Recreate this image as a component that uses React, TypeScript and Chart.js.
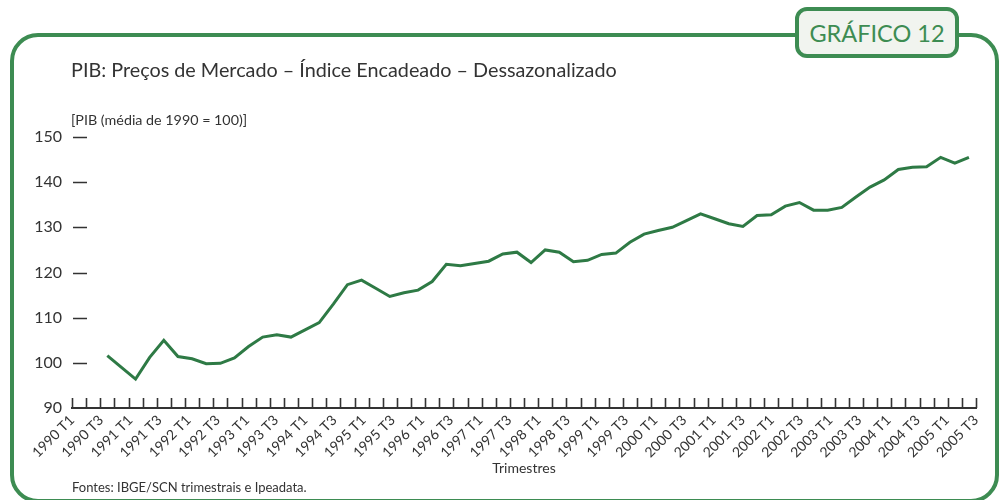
import React, { useEffect, useRef } from "react";
import { Chart, registerables } from "chart.js";

Chart.register(...registerables);

// ---- data ----
const years = [1990, 1991, 1992, 1993, 1994, 1995, 1996, 1997, 1998, 1999, 2000, 2001, 2002, 2003, 2004, 2005];
const quarterNames = ["T1", "T2", "T3", "T4"];
const quarterSlots = years.flatMap((y) => quarterNames.map((q) => `${y} ${q}`));
const tickLabels = years.flatMap((y) => [`${y} T1`, `${y} T3`]);

const pibIndex: (number | null)[] = [
  null, null, 101.6, 99.0, 96.4, 101.2, 105.0, 101.4, 100.9, 99.8, 99.9, 101.1,
  103.6, 105.7, 106.2, 105.7, 107.3, 108.9, 113.0, 117.3, 118.3, 116.5, 114.7, 115.5,
  116.1, 118.0, 121.8, 121.5, 122.0, 122.5, 124.1, 124.5, 122.2, 125.0, 124.5, 122.4,
  122.7, 124.0, 124.3, 126.7, 128.5, 129.3, 130.0, 131.5, 133.0, 131.9, 130.8, 130.2,
  132.6, 132.8, 134.7, 135.5, 133.8, 133.8, 134.4, 136.7, 138.9, 140.5, 142.8, 143.3,
  143.4, 145.5, 144.2, 145.5,
];

const yMin = 90;
const yMax = 150;
const yStep = 10;

// ---- styles ----
const GREEN = "#3d8c52";
const LINE = "#2e7a45";
const TEXT = "#333333";
const FONT = "Lato, 'Open Sans', sans-serif";

const tickMarks = {
  id: "tickMarks",
  afterDatasetsDraw(chart: any) {
    const { ctx, chartArea, scales } = chart;
    const x = scales.x;
    const y = scales.y;
    ctx.save();
    ctx.strokeStyle = TEXT;
    ctx.lineWidth = 1.6;
    ctx.beginPath();
    for (let i = 0; i <= quarterSlots.length; i++) {
      const px = Math.round(x.getPixelForValue(i - 0.5)) + 0.5;
      ctx.moveTo(px, chartArea.bottom);
      ctx.lineTo(px, chartArea.bottom - 10);
    }
    y.ticks.forEach((t: any) => {
      if (t.value === yMin) return;
      const py = Math.round(y.getPixelForValue(t.value)) + 0.5;
      ctx.moveTo(chartArea.left + 1, py);
      ctx.lineTo(chartArea.left + 15, py);
    });
    ctx.stroke();
    ctx.restore();
  },
};

export default function App() {
  const ref = useRef<HTMLCanvasElement | null>(null);

  useEffect(() => {
    if (!ref.current) return;
    const chart = new Chart(ref.current, {
      type: "line",
      data: {
        labels: quarterSlots,
        datasets: [
          {
            data: pibIndex,
            borderColor: LINE,
            borderWidth: 3,
            pointRadius: 0,
            tension: 0,
            fill: false,
            xAxisID: "x",
            yAxisID: "y",
          },
        ],
      },
      options: {
        responsive: false,
        animation: false,
        layout: { padding: { top: 137, right: 25, left: 0, bottom: 0 } },
        plugins: {
          legend: { display: false },
          tooltip: { enabled: false },
          title: { display: false },
        },
        scales: {
          x: {
            type: "category",
            position: "bottom",
            offset: true,
            weight: 0,
            grid: { display: true, drawOnChartArea: false, drawTicks: false, offset: true },
            border: { display: true, color: TEXT, width: 2 },
            ticks: { display: false },
          },
          xl: {
            type: "category",
            labels: tickLabels,
            position: "bottom",
            display: true,
            offset: false,
            weight: 1,
            grid: { display: false, drawTicks: false },
            border: { display: false },
            ticks: {
              autoSkip: false,
              maxRotation: 45,
              minRotation: 45,
              padding: 4,
              color: TEXT,
              font: { family: FONT, size: 14 },
            },
            title: {
              display: true,
              text: "Trimestres",
              color: TEXT,
              font: { family: FONT, size: 14 },
              padding: { top: 0, bottom: 23 },
            },
            afterFit(s: any) {
              s.height = 92;
            },
          },
          y: {
            min: yMin,
            max: yMax,
            grid: { display: false, drawTicks: false },
            border: { display: false },
            ticks: {
              stepSize: yStep,
              padding: 10,
              color: TEXT,
              font: { family: FONT, size: 16 },
            },
            afterFit(s: any) {
              s.width = 72;
            },
          },
        },
      } as any,
      plugins: [tickMarks],
    });
    return () => chart.destroy();
  }, []);

  const abs = (o: React.CSSProperties): React.CSSProperties => ({
    position: "absolute",
    whiteSpace: "nowrap",
    fontFamily: FONT,
    color: TEXT,
    lineHeight: 1,
    ...o,
  });

  return (
    <div style={{ position: "absolute", left: 0, top: 0, width: 1001, height: 500, overflow: "hidden", background: "#fff" }}>
      <div
        style={{
          position: "absolute",
          left: 10,
          top: 33,
          width: 989,
          height: 470,
          boxSizing: "border-box",
          border: `4px solid ${GREEN}`,
          borderRadius: 28,
        }}
      />
      <canvas ref={ref} width={1001} height={500} style={{ position: "absolute", left: 0, top: 0, width: 1001, height: 500 }} />
      <div style={abs({ left: 71, top: 60, fontSize: 19.8 })}>
        PIB: Preços de Mercado – Índice Encadeado – Dessazonalizado
      </div>
      <div style={abs({ left: 71, top: 113, fontSize: 14.3 })}>[PIB (média de 1990 = 100)]</div>
      <div style={abs({ left: 72, top: 481, fontSize: 13 })}>Fontes: IBGE/SCN trimestrais e Ipeadata.</div>
      <div
        style={{
          position: "absolute",
          left: 795,
          top: 7,
          width: 164,
          height: 51,
          boxSizing: "border-box",
          border: `4px solid ${GREEN}`,
          borderRadius: 12,
          background: "#f1f4ef",
          display: "flex",
          alignItems: "center",
          justifyContent: "center",
          fontFamily: FONT,
          fontSize: 23.5,
          color: GREEN,
          whiteSpace: "nowrap",
        }}
      >
        GRÁFICO 12
      </div>
    </div>
  );
}
